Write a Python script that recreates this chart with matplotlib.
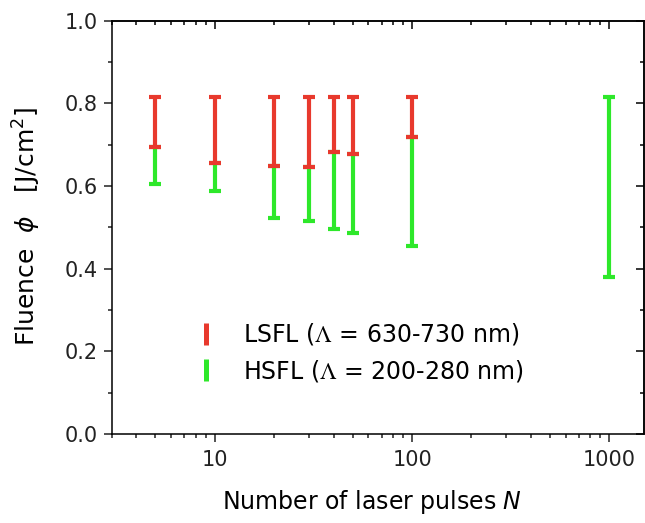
import numpy as np
import matplotlib
matplotlib.use("Agg")
import matplotlib.pyplot as plt
from matplotlib.lines import Line2D
from matplotlib.ticker import MultipleLocator, LogLocator, NullFormatter

# ============================================================
# DATA (fluence ranges)
# ============================================================

n_lsfl = [5, 10, 20, 30, 40, 50, 100]
lsfl_hi = [0.815, 0.815, 0.815, 0.815, 0.815, 0.815, 0.815]
lsfl_lo = [0.694, 0.657, 0.648, 0.645, 0.682, 0.677, 0.718]

n_hsfl = [5, 10, 20, 30, 40, 50, 100, 1000]
hsfl_hi = [0.694, 0.657, 0.648, 0.645, 0.682, 0.677, 0.718, 0.815]
hsfl_lo = [0.606, 0.589, 0.524, 0.515, 0.496, 0.486, 0.454, 0.381]

xticks = [10, 100, 1000]
xticklabels = ["10", "100", "1000"]

red = "#e8392d"
green = "#2ee82a"

# ============================================================
# STYLE
# ============================================================

plt.rcParams["font.family"] = ["DejaVu Sans"]
plt.rcParams["mathtext.fontset"] = "custom"
plt.rcParams["mathtext.rm"] = "STIXGeneral"
plt.rcParams["mathtext.it"] = "DejaVu Sans:italic"
plt.rcParams["mathtext.sf"] = "DejaVu Sans"
plt.rcParams["axes.linewidth"] = 1.1

fig = plt.figure(figsize=(6.45, 5.23), dpi=100)
ax = fig.add_axes([0.1732, 0.170, 0.8253, 0.7903])


def draw_ranges(n, lo, hi, color):
    lo = np.array(lo)
    hi = np.array(hi)
    mid = (lo + hi) / 2
    half = (hi - lo) / 2
    ax.errorbar(
        n, mid, yerr=half,
        fmt="none",
        ecolor=color,
        elinewidth=3.0,
        capsize=4.2,
        capthick=3.0,
    )


draw_ranges(n_hsfl, hsfl_lo, hsfl_hi, green)
draw_ranges(n_lsfl, lsfl_lo, lsfl_hi, red)

# ============================================================
# AXES
# ============================================================

ax.set_xscale("log")
ax.set_xlim(3, 1500)
ax.set_ylim(0, 1.0)

ax.set_xticks(xticks)
ax.set_xticklabels(xticklabels)
ax.xaxis.set_minor_locator(LogLocator(base=10, subs=np.arange(2, 10)))
ax.xaxis.set_minor_formatter(NullFormatter())

ax.yaxis.set_major_locator(MultipleLocator(0.2))
ax.yaxis.set_minor_locator(MultipleLocator(0.1))
ax.yaxis.set_major_formatter(plt.FormatStrFormatter("%.1f"))

ax.tick_params(which="major", direction="out", length=5.8, width=1.1,
               labelsize=15, pad=4.3, colors="#222222")
ax.tick_params(which="minor", direction="out", length=3, width=1.1,
               colors="#222222")
ax.tick_params(axis="x", which="major", pad=6)

# mirrored ticks pointing inward on top and right
top = ax.secondary_xaxis("top")
top.set_xticks(xticks)
top.xaxis.set_minor_locator(LogLocator(base=10, subs=np.arange(2, 10)))
top.xaxis.set_minor_formatter(NullFormatter())
top.tick_params(which="major", direction="in", length=5.8, width=1.1, labeltop=False)
top.tick_params(which="minor", direction="in", length=3, width=1.1)

right = ax.secondary_yaxis("right")
right.yaxis.set_major_locator(MultipleLocator(0.2))
right.yaxis.set_minor_locator(MultipleLocator(0.1))
right.tick_params(which="major", direction="in", length=5.8, width=1.1, labelright=False)
right.tick_params(which="minor", direction="in", length=3, width=1.1)

ax.set_xlabel(r"Number of laser pulses $\mathit{N}$", fontsize=17)
ax.set_ylabel(r"Fluence  $\phi$   [J/cm$^{\mathsf{2}}$]", fontsize=18)
ax.xaxis.set_label_coords(0.489, -0.131)
ax.yaxis.set_label_coords(-0.13, 0.503)

# ============================================================
# LEGEND
# ============================================================

handles = [
    Line2D([], [], color=red, marker="|", linestyle="none",
           markersize=16, markeredgewidth=3.6),
    Line2D([], [], color=green, marker="|", linestyle="none",
           markersize=16, markeredgewidth=3.6),
]
labels = [
    r"LSFL ($\Lambda$ = 630-730 nm)",
    r"HSFL ($\Lambda$ = 200-280 nm)",
]
ax.legend(
    handles, labels,
    loc="center left",
    bbox_to_anchor=(0.1407, 0.197),
    frameon=False,
    fontsize=17,
    handlelength=1.6,
    handletextpad=0.77,
    labelspacing=0.45,
    borderpad=0,
    borderaxespad=0,
)

fig.savefig("out.png", dpi=100)
